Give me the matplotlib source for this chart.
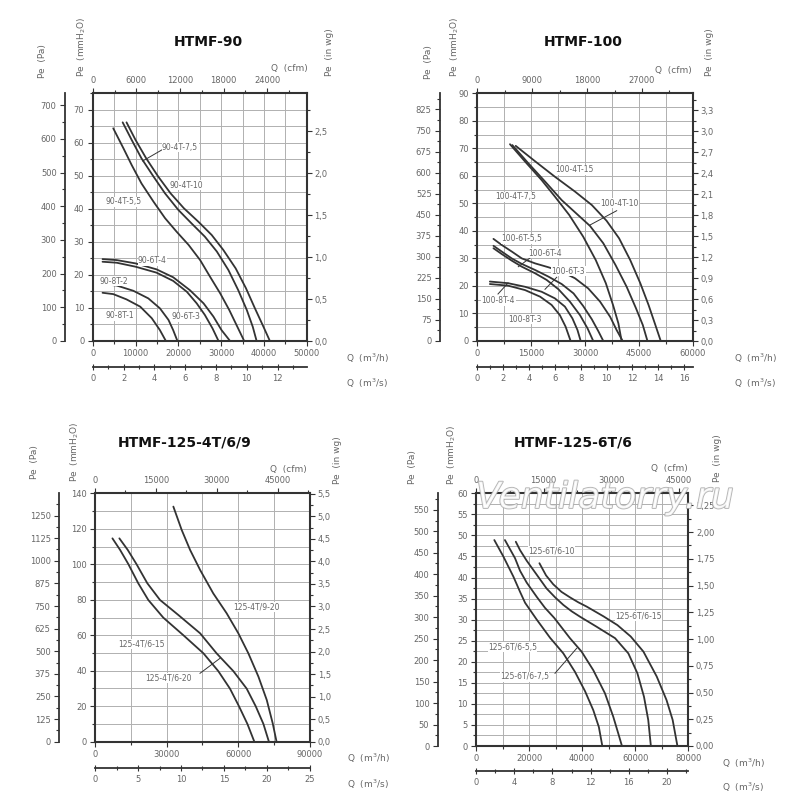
import numpy as np
import matplotlib
matplotlib.use("Agg")
import matplotlib.pyplot as plt
from matplotlib.ticker import FixedLocator, FuncFormatter
from matplotlib.lines import Line2D
import matplotlib.patheffects as pe

# ---------------- DATA (Q in m3/h, Pe in mmH2O) ----------------
# HTMF-90
q_90_4t_10 = [7900, 10000, 12500, 15300, 18200, 21300, 24700, 27800, 30500, 33400, 35800, 37900, 39900, 41400]
p_90_4t_10 = [66.2, 60.9, 55.3, 49.8, 44.7, 40.2, 36.1, 32.1, 27.6, 22.0, 16.0, 9.9, 4.3, 0]
q_90_4t_7_5 = [7000, 9100, 11400, 14200, 16900, 20000, 23100, 26200, 29000, 31700, 34000, 36000, 37400, 38300]
p_90_4t_7_5 = [66.2, 60.9, 55.3, 49.8, 44.7, 39.7, 35.6, 31.6, 27.1, 21.5, 15.4, 9.4, 4.3, 0]
q_90_4t_5_5 = [4800, 7200, 9100, 11400, 14200, 16900, 19600, 22400, 25100, 27400, 29800, 31900, 33800, 35400]
p_90_4t_5_5 = [64.4, 58.3, 53.3, 47.7, 42.2, 37.2, 33.1, 29.1, 24.5, 19.5, 14.4, 9.4, 4.3, 0]
q_90_6t_4 = [2300, 5600, 10000, 14900, 18800, 22700, 25900, 28200, 30100, 32100]
p_90_6t_4 = [24.8, 24.5, 23.5, 21.7, 19.3, 15.4, 11.4, 7.4, 3.3, 0]
q_90_6t_3 = [2300, 5600, 10000, 14900, 18800, 22000, 24300, 26200, 28000, 29400]
p_90_6t_3 = [24.0, 23.7, 22.5, 20.7, 18.2, 14.9, 11.4, 7.9, 3.8, 0]
q_90_8t_2 = [2300, 5600, 9500, 13000, 15700, 17700, 18800, 19800]
p_90_8t_2 = [17.2, 16.8, 15.2, 12.9, 9.9, 6.4, 3.3, 0]
q_90_8t_1 = [2300, 4800, 7900, 11100, 13800, 15700, 17100]
p_90_8t_1 = [14.6, 14.2, 12.6, 10.4, 6.9, 3.3, 0]

# HTMF-100
q_100_4t_15 = [10700, 16100, 21600, 27200, 31900, 36000, 39500, 42600, 45400, 47700, 49500, 51100]
p_100_4t_15 = [70.9, 65.3, 59.7, 54.3, 49.4, 43.7, 37.3, 29.4, 21.0, 13.1, 6.2, 0]
q_100_4t_10 = [9750, 14200, 18900, 23500, 27700, 31400, 35100, 38500, 41600, 44200, 46100, 47400]
p_100_4t_10 = [71.2, 64.6, 57.9, 51.2, 46.2, 41.8, 35.5, 27.6, 19.7, 11.9, 5.8, 0]
q_100_4t_7_5 = [9100, 13300, 17900, 21600, 25600, 29500, 33000, 35800, 37800, 39300, 40200]
p_100_4t_7_5 = [71.5, 65.2, 58.5, 52.5, 45.8, 37.9, 29.4, 21.0, 13.1, 6.4, 0]
q_100_6t_5_5 = [4500, 6800, 9600, 12400, 16100, 19800, 23500, 27200, 30900, 34200, 37000, 38800, 40500]
p_100_6t_5_5 = [37.1, 34.9, 32.5, 30.0, 28.2, 26.8, 25.2, 22.8, 19.1, 14.3, 8.8, 4.0, 0]
q_100_6t_4 = [4500, 6800, 9600, 12400, 16100, 19800, 23500, 26800, 29500, 31900, 33700, 35100]
p_100_6t_4 = [34.6, 32.5, 30.0, 28.0, 25.8, 23.4, 20.7, 17.3, 12.7, 7.9, 3.6, 0]
q_100_6t_3 = [4500, 6800, 9600, 12400, 16100, 19300, 22600, 25800, 28600, 30700, 32300]
p_100_6t_3 = [33.7, 31.6, 29.2, 27.0, 24.6, 22.2, 18.8, 14.3, 9.4, 4.6, 0]
q_100_8t_4 = [3500, 8600, 13300, 17900, 21600, 24400, 26500, 27900, 28800]
p_100_8t_4 = [21.6, 21.0, 19.7, 17.9, 15.5, 12.5, 8.2, 4.0, 0]
q_100_8t_3 = [3500, 8600, 13300, 17500, 20700, 23000, 24600, 26000]
p_100_8t_3 = [20.7, 20.1, 18.5, 16.1, 13.1, 9.4, 5.2, 0]

# HTMF-125-4T/6/9
q_125_4t_6_15 = [7300, 10500, 14000, 18100, 22300, 28600, 37000, 45400, 51600, 56500, 60300, 63800, 66700]
p_125_4t_6_15 = [114.6, 108.1, 100.0, 89.3, 79.9, 69.9, 60.0, 49.8, 39.8, 29.9, 19.9, 10.0, 0]
q_125_4t_6_20 = [10200, 13700, 17400, 21900, 27200, 34900, 44000, 50900, 57900, 63500, 67300, 70500, 72800]
p_125_4t_6_20 = [114.6, 108.1, 100.0, 89.3, 79.9, 71.4, 61.1, 49.8, 39.8, 29.9, 19.9, 10.0, 0]
q_125_4t_9_20 = [32800, 36300, 39800, 44000, 49500, 55100, 60000, 64200, 68400, 71900, 74400, 76000]
p_125_4t_9_20 = [132.5, 119.3, 108.1, 96.8, 83.6, 72.4, 61.1, 49.8, 36.7, 23.5, 10.3, 0]

# HTMF-125-6T/6
q_125_6t_5_5 = [6900, 10300, 14100, 16600, 18500, 22900, 27900, 32900, 37300, 41100, 44200, 46300, 47600]
p_125_6t_5_5 = [48.9, 45.0, 40.2, 36.6, 34.0, 30.0, 25.7, 22.0, 17.6, 13.0, 8.5, 4.5, 0]
q_125_6t_7_5 = [10900, 14700, 16600, 19100, 22900, 26000, 29500, 35400, 39800, 44200, 48600, 51700, 53600, 55000]
p_125_6t_7_5 = [48.9, 44.6, 41.6, 38.8, 35.4, 32.8, 30.4, 25.6, 22.4, 18.0, 12.5, 7.0, 3.0, 0]
q_125_6t_10 = [15000, 16600, 19100, 21600, 24100, 26600, 29800, 32900, 36000, 39200, 45500, 52400, 57400, 60800, 63300, 64900, 65900]
p_125_6t_10 = [48.5, 46.5, 44.0, 41.8, 39.6, 37.4, 35.3, 33.5, 32.0, 30.7, 28.3, 25.6, 22.0, 17.3, 11.7, 6.2, 0]
q_125_6t_15 = [23900, 26400, 29100, 32200, 35400, 38600, 41700, 48000, 53300, 58300, 63100, 68100, 71800, 74100, 75900]
p_125_6t_15 = [43.4, 40.5, 38.4, 36.6, 35.3, 34.1, 33.1, 30.8, 28.7, 26.0, 22.4, 16.5, 10.9, 6.2, 0]

titles = ["HTMF-90", "HTMF-100", "HTMF-125-4T/6/9", "HTMF-125-6T/6"]

# ---------------- helpers ----------------
PA = 9.80665      # Pa per mmH2O
INWG = 25.4       # mmH2O per in wg
CFM = 1.699011    # m3/h per cfm

W = H = 800.0
fig = plt.figure(figsize=(8, 8), dpi=100)
fig.patch.set_facecolor("white")
plt.rcParams["font.family"] = ["DejaVu Sans"]

TXT = "#666666"
DARK = "#333333"
FS = 6


def fx(x):
    return x / W


def fy(y):
    return 1 - y / H


def ftext(x, y, s, **kw):
    kw.setdefault("fontsize", FS)
    kw.setdefault("color", TXT)
    kw.setdefault("ha", "center")
    kw.setdefault("va", "center")
    fig.text(fx(x), fy(y), s, **kw)


def fline(x0, y0, x1, y1):
    fig.add_artist(Line2D([fx(x0), fx(x1)], [fy(y0), fy(y1)], color=DARK, lw=0.7,
                          transform=fig.transFigure))


def comma(fmt):
    return FuncFormatter(lambda v, p: (fmt % v).replace(".", ","))


def style_ticks(axis_obj, major, minor):
    axis_obj.set_major_locator(FixedLocator(major))
    axis_obj.set_minor_locator(FixedLocator(minor))


def panel(box, xmax, ymax, gx, gy, mm_maj, mm_min, pa_maj, pa_min, pa_x,
          wg_maj, wg_min, wg_fmt, cfm_maj, cfm_min, m3h_maj, m3h_min,
          m3s_maj, m3s_min, m3s_y, curves):
    L, T, R, B = box
    ax = fig.add_axes([fx(L), fy(B), (R - L) / W, (B - T) / H])
    ax.set_xlim(0, xmax)
    ax.set_ylim(0, ymax)
    ax.set_facecolor("white")
    for v in np.arange(gx, xmax, gx):
        ax.axvline(v, color="#b0b0b0", lw=0.7, zorder=1)
    for v in np.arange(gy, ymax - 1e-9, gy):
        ax.axhline(v, color="#b0b0b0", lw=0.7, zorder=1)
    for q, p in curves:
        ax.plot(q, p, color=DARK, lw=1.3, zorder=3, solid_joinstyle="round",
                solid_capstyle="round")
    for s in ax.spines.values():
        s.set_color(DARK)
        s.set_linewidth(1.5)

    # mm (left) and m3/h (bottom)
    style_ticks(ax.yaxis, mm_maj, mm_min)
    style_ticks(ax.xaxis, m3h_maj, m3h_min)
    ax.yaxis.set_major_formatter(FuncFormatter(lambda v, p: "%g" % v))
    ax.xaxis.set_major_formatter(FuncFormatter(lambda v, p: "%d" % v))
    ax.tick_params(which="both", direction="out", colors=DARK, labelcolor=TXT,
                   labelsize=FS, width=0.8)
    ax.tick_params(which="major", length=3.5, pad=2.5)
    ax.tick_params(which="minor", length=2)

    # Pa axis (separate, further left)
    sa = ax.secondary_yaxis((pa_x - L) / (R - L), functions=(lambda m: m * PA, lambda p: p / PA))
    style_ticks(sa.yaxis, pa_maj, pa_min)
    sa.yaxis.set_major_formatter(FuncFormatter(lambda v, p: "%d" % round(v)))
    sa.tick_params(which="both", direction="out", colors=DARK, labelcolor=TXT,
                   labelsize=FS, width=0.8)
    sa.tick_params(which="major", length=3.5, pad=2.5)
    sa.tick_params(which="minor", length=2)
    sa.spines["left"].set_color(DARK)
    sa.spines["left"].set_linewidth(1.3)

    # in wg axis (right)
    sw = ax.secondary_yaxis("right", functions=(lambda m: m / INWG, lambda i: i * INWG))
    style_ticks(sw.yaxis, wg_maj, wg_min)
    sw.yaxis.set_major_formatter(comma(wg_fmt))
    sw.tick_params(which="both", direction="out", colors=DARK, labelcolor=TXT,
                   labelsize=FS, width=0.8)
    sw.tick_params(which="major", length=3.5, pad=2)
    sw.tick_params(which="minor", length=2)
    sw.spines["right"].set_visible(False)

    # cfm axis (top)
    sc = ax.secondary_xaxis("top", functions=(lambda q: q / CFM, lambda c: c * CFM))
    style_ticks(sc.xaxis, cfm_maj, cfm_min)
    sc.xaxis.set_major_formatter(FuncFormatter(lambda v, p: "%d" % round(v)))
    sc.tick_params(which="both", direction="out", colors=DARK, labelcolor=TXT,
                   labelsize=FS, width=0.8)
    sc.tick_params(which="major", length=3.5, pad=2.5)
    sc.tick_params(which="minor", length=2)
    sc.spines["top"].set_visible(False)

    # m3/s axis (separate, below)
    ss = ax.secondary_xaxis(-(m3s_y - B) / (B - T), functions=(lambda q: q / 3600.0, lambda s: s * 3600.0))
    style_ticks(ss.xaxis, m3s_maj, m3s_min)
    ss.xaxis.set_major_formatter(FuncFormatter(lambda v, p: "%g" % v))
    ss.tick_params(which="both", direction="inout", colors=DARK, labelcolor=TXT,
                   labelsize=FS, width=0.8)
    ss.tick_params(which="major", length=5, pad=2.5)
    ss.tick_params(which="minor", length=3)
    ss.spines["bottom"].set_color(DARK)
    ss.spines["bottom"].set_linewidth(1.3)
    return ax


# ---------------- panel 1 ----------------
panel((92.7, 93.3, 306.7, 341), 50000, 75, 5000, 5,
      np.arange(0, 71, 10), np.arange(5, 76, 10),
      np.arange(0, 701, 100), np.arange(50, 701, 100), 65,
      np.arange(0, 2.51, 0.5), np.arange(0.25, 2.9, 0.5), "%.1f",
      np.arange(0, 24001, 6000), np.arange(3000, 28000, 6000),
      np.arange(0, 50001, 10000), np.arange(5000, 50000, 10000),
      np.arange(0, 12.1, 2), np.arange(1, 13.9, 2), 367,
      [(q_90_4t_10, p_90_4t_10), (q_90_4t_7_5, p_90_4t_7_5), (q_90_4t_5_5, p_90_4t_5_5),
       (q_90_6t_4, p_90_6t_4), (q_90_6t_3, p_90_6t_3), (q_90_8t_2, p_90_8t_2),
       (q_90_8t_1, p_90_8t_1)])

# ---------------- panel 2 ----------------
panel((477.3, 93.3, 692.7, 341), 60000, 90, 7500, 5,
      np.arange(0, 91, 10), np.arange(5, 90, 10),
      np.arange(0, 826, 75), np.arange(37.5, 880, 75), 440,
      np.round(np.arange(0, 3.31, 0.3), 2), np.arange(0.15, 3.5, 0.3), "%.1f",
      np.arange(0, 27001, 9000), np.arange(4500, 33000, 9000),
      np.arange(0, 60001, 15000), np.arange(7500, 60000, 15000),
      np.arange(0, 16.1, 2), np.arange(1, 16.6, 2), 366.7,
      [(q_100_4t_15, p_100_4t_15), (q_100_4t_10, p_100_4t_10), (q_100_4t_7_5, p_100_4t_7_5),
       (q_100_6t_5_5, p_100_6t_5_5), (q_100_6t_4, p_100_6t_4), (q_100_6t_3, p_100_6t_3),
       (q_100_8t_4, p_100_8t_4), (q_100_8t_3, p_100_8t_3)])

# ---------------- panel 3 ----------------
panel((95, 493.3, 310, 741.7), 90000, 140, 15000, 10,
      np.arange(0, 141, 20), np.arange(10, 140, 20),
      np.arange(0, 1251, 125), np.arange(62.5, 1370, 125), 59,
      np.arange(0, 5.51, 0.5), np.arange(0.25, 5.5, 0.5), "%.1f",
      np.arange(0, 45001, 15000), np.arange(7500, 53000, 15000),
      np.arange(0, 90001, 30000), np.arange(15000, 90000, 30000),
      np.arange(0, 25.1, 5), np.arange(2.5, 25, 5), 767.7,
      [(q_125_4t_6_15, p_125_4t_6_15), (q_125_4t_6_20, p_125_4t_6_20),
       (q_125_4t_9_20, p_125_4t_9_20)])

# ---------------- panel 4 ----------------
panel((476, 493.3, 688.3, 746), 80000, 60, 10000, 2.5,
      np.arange(0, 61, 5), np.arange(2.5, 60, 5),
      np.arange(0, 551, 50), np.arange(25, 580, 50), 437.7,
      np.arange(0, 2.26, 0.25), np.arange(0.125, 2.36, 0.25), "%.2f",
      np.arange(0, 45001, 15000), np.arange(7500, 47000, 15000),
      np.arange(0, 80001, 20000), np.arange(10000, 80000, 20000),
      np.arange(0, 20.1, 4), np.arange(2, 22.2, 4), 771,
      [(q_125_6t_5_5, p_125_6t_5_5), (q_125_6t_7_5, p_125_6t_7_5),
       (q_125_6t_10, p_125_6t_10), (q_125_6t_15, p_125_6t_15)])

# ---------------- titles & axis names ----------------
ftext(208, 42, titles[0], fontsize=10, fontweight="bold", color="#111111")
ftext(583, 42, titles[1], fontsize=10, fontweight="bold", color="#111111")
ftext(185, 443, titles[2], fontsize=10, fontweight="bold", color="#111111")
ftext(573, 442, titles[3], fontsize=10, fontweight="bold", color="#111111")

for (xpa, ypa, xmm, ymm, xwg, ywg, xcfm, ycfm, xq, yqh, yqs) in [
        (43, 61, 82, 47, 330, 52, 289, 69, 367, 358, 383),
        (429, 62, 455, 47, 710, 52, 673, 70, 755, 358, 383),
        (35, 462, 75, 452, 338, 460, 288, 469, 368, 758, 784),
        (412, 467, 452, 455, 717, 458, 669, 468, 743, 763, 787)]:
    ftext(xpa, ypa, "Pe  (Pa)", rotation=90, fontsize=6.5)
    ftext(xmm, ymm, "Pe  (mmH$_2$O)", rotation=90, fontsize=6.5)
    ftext(xwg, ywg, "Pe  (in wg)", rotation=90, fontsize=6.5)
    ftext(xcfm, ycfm, "Q  (cfm)", fontsize=6.5)
    ftext(xq, yqh, "Q  (m$^3$/h)", fontsize=6.5)
    ftext(xq, yqs, "Q  (m$^3$/s)", fontsize=6.5)

# ---------------- curve labels ----------------
LFS = 5.5
for (x, y, s) in [
        (162, 147.3, "90-4T-7,5"), (170, 185, "90-4T-10"), (105, 201.7, "90-4T-5,5"),
        (138, 260.7, "90-6T-4"), (100, 281, "90-8T-2"), (105, 315.7, "90-8T-1"),
        (171.7, 316.7, "90-6T-3"),
        (555, 170, "100-4T-15"), (495, 196.7, "100-4T-7,5"), (600, 203.3, "100-4T-10"),
        (501.7, 239, "100-6T-5,5"), (528, 253.3, "100-6T-4"), (551.7, 271, "100-6T-3"),
        (481.7, 300.7, "100-8T-4"), (508, 319.3, "100-8T-3"),
        (233, 607.3, "125-4T/9-20"), (118, 644.3, "125-4T/6-15"), (145.7, 678.3, "125-4T/6-20"),
        (528, 550.7, "125-6T/6-10"), (615, 616, "125-6T/6-15"), (488, 647.3, "125-6T/6-5,5"),
        (500, 676.7, "125-6T/6-7,5")]:
    ftext(x, y, s, fontsize=LFS, ha="left",
          bbox=dict(boxstyle="square,pad=0.05", fc="white", ec="none"))

for (x0, y0, x1, y1) in [
        (161.7, 150, 142.7, 161), (616.7, 210.7, 590, 225), (530, 258, 518.3, 266.7),
        (556.7, 277.3, 545, 289.3), (498, 294, 508, 283), (200, 673.3, 220, 658.3),
        (555, 673.3, 576.7, 648.3)]:
    fline(x0, y0, x1, y1)

# ---------------- watermark ----------------
fig.text(fx(605), fy(498), "Ventilatorry.ru", fontsize=26, style="italic",
         color="white", alpha=0.85, ha="center", va="center", zorder=10,
         path_effects=[pe.withStroke(linewidth=1.3, foreground="#a8a8a8")])

fig.savefig("out.png", dpi=100, facecolor="white")
